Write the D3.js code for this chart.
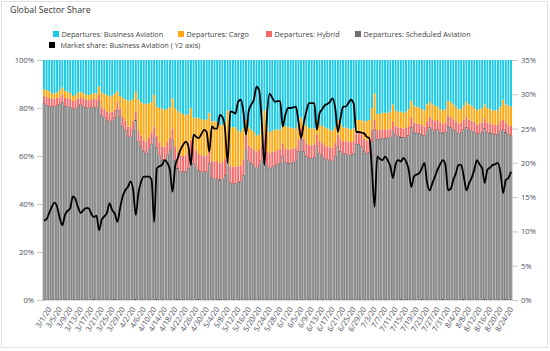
<!DOCTYPE html>
<html lang="en">
<head>
<meta charset="UTF-8"/>
<title>Global Sector Share</title>
<script src="https://d3js.org/d3.v7.min.js"></script>
<style>
	body { margin:0; background:#fff; font-family:"Open Sans", sans-serif; }
	.axis text { fill:#4d5262; font-size:7.6px; font-family:"Open Sans", sans-serif; }
	.axis line { stroke:#c8c8c8; }
	.axis path { display:none; }
</style>
</head>
<body>
<script>
	// daily categories 3/1/20 .. 8/26/20
	var days = d3.timeDay.range(new Date(2020, 2, 1), new Date(2020, 7, 27));

	// series, share of departures (%), one value per day
	var scheduled = [
		82.0, 81.2, 80.8, 80.5, 80.6, 81.0, 81.5,
		82.4, 80.8, 80.5, 80.4, 79.6, 79.8, 80.6,
		81.5, 80.6, 80.2, 80.0, 80.3, 80.5, 80.2,
		82.5, 77.0, 76.0, 75.0, 74.3, 74.8, 76.0,
		79.2, 76.4, 72.5, 70.8, 68.0, 68.0, 70.8,
		75.0, 66.0, 64.0, 62.0, 61.0, 63.0, 65.0,
		68.0, 63.5, 60.5, 58.3, 58.5, 60.5, 62.5,
		66.7, 58.3, 55.0, 53.5, 53.5, 53.5, 55.0,
		61.0, 57.0, 55.5, 54.0, 53.5, 53.0, 53.5,
		57.0, 51.0, 50.5, 50.7, 50.0, 50.5, 52.0,
		58.0, 49.0, 48.5, 48.5, 49.0, 49.5, 52.0,
		63.0, 58.0, 57.0, 56.0, 55.0, 56.0, 58.0,
		62.0, 56.0, 55.0, 55.5, 56.0, 56.5, 57.0,
		60.0, 57.5, 57.0, 57.0, 57.5, 58.0, 62.0,
		67.0, 62.0, 60.0, 59.0, 59.0, 59.5, 64.0,
		61.0, 60.0, 59.0, 58.5, 58.0, 58.0, 60.0,
		64.0, 62.0, 61.0, 61.0, 60.5, 60.5, 61.0,
		65.0, 65.0, 64.0, 62.0, 61.0, 61.5, 66.0,
		71.0, 67.0, 67.0, 67.5, 67.5, 67.5, 68.0,
		70.5, 68.5, 68.0, 68.0, 67.5, 68.0, 69.0,
		72.0, 70.0, 69.5, 69.5, 69.0, 68.5, 70.5,
		72.0, 71.0, 70.5, 71.0, 70.0, 69.5, 70.0,
		72.5, 72.0, 71.0, 70.5, 69.5, 70.0, 71.0,
		72.0, 71.0, 70.5, 70.0, 69.0, 69.5, 70.0,
		71.5, 70.0, 69.5, 69.5, 69.0, 69.0, 70.5,
		71.0, 70.0, 69.0, 68.5
	];
	var hybrid = [
		3.2, 3.4, 3.5, 3.3, 3.4, 3.2, 3.0,
		3.2, 3.4, 3.5, 3.4, 3.3, 3.4, 3.3,
		3.0, 3.2, 3.3, 3.3, 3.4, 3.3, 3.4,
		3.0, 3.3, 3.5, 3.6, 3.7, 3.6, 3.4,
		3.2, 3.5, 3.8, 4.0, 4.2, 4.3, 4.0,
		3.6, 4.4, 4.6, 4.8, 5.0, 4.8, 4.6,
		4.2, 5.0, 5.2, 5.5, 5.5, 5.3, 5.0,
		4.8, 5.8, 6.2, 6.5, 6.6, 6.6, 6.4,
		5.8, 6.4, 6.6, 6.8, 6.8, 6.9, 6.8,
		6.2, 7.0, 7.2, 7.2, 7.0, 7.0, 6.8,
		6.0, 6.8, 7.0, 7.0, 6.8, 6.6, 6.5,
		5.6, 6.4, 6.5, 6.6, 6.6, 6.5, 6.2,
		5.0, 6.0, 6.2, 6.2, 6.0, 6.0, 5.8,
		5.2, 5.6, 5.8, 5.8, 5.6, 5.5, 5.0,
		4.6, 5.2, 5.4, 5.5, 5.5, 5.4, 5.0,
		5.3, 5.4, 5.5, 5.5, 5.6, 5.5, 5.4,
		4.8, 5.0, 5.2, 5.2, 5.3, 5.3, 5.2,
		4.5, 4.6, 4.8, 5.2, 5.4, 5.5, 5.0,
		4.0, 3.8, 3.8, 3.6, 3.6, 3.5, 3.5,
		4.0, 3.8, 3.8, 3.8, 3.8, 3.8, 3.8,
		4.2, 4.0, 4.0, 3.9, 3.9, 3.8, 4.0,
		4.3, 4.2, 4.1, 4.0, 4.0, 3.9, 4.0,
		4.3, 4.3, 4.2, 4.0, 4.0, 4.0, 4.1,
		4.3, 4.2, 4.2, 4.1, 4.0, 4.0, 4.0,
		4.2, 4.0, 4.0, 3.9, 4.0, 4.0, 4.1,
		4.2, 4.0, 3.8, 4.0
	];
	var cargo = [
		2.6, 2.9, 2.7, 2.4, 2.0, 2.3, 2.9,
		2.9, 3.0, 2.8, 2.4, 2.1, 2.2, 2.5,
		2.3, 2.4, 2.1, 2.1, 2.1, 2.4, 2.4,
		3.5, 6.2, 6.3, 6.8, 6.8, 6.8, 6.6,
		4.6, 5.1, 7.9, 8.8, 11.0, 10.7, 9.0,
		8.2, 13.1, 13.8, 15.0, 15.7, 14.2, 12.8,
		13.3, 12.0, 14.3, 15.9, 15.2, 13.8, 12.9,
		12.5, 15.9, 17.6, 18.0, 17.4, 16.9, 16.0,
		13.2, 12.6, 13.9, 14.9, 15.1, 15.1, 14.9,
		14.8, 16.5, 16.8, 16.3, 16.0, 15.5, 15.4,
		15.0, 16.2, 16.5, 16.5, 14.7, 13.9, 13.0,
		6.4, 7.6, 7.5, 7.4, 6.9, 6.5, 8.3,
		12.0, 10.5, 8.8, 8.8, 9.0, 8.5, 8.2,
		9.3, 9.4, 9.2, 9.0, 8.4, 8.0, 6.5,
		4.4, 6.8, 7.1, 7.0, 7.0, 6.6, 6.0,
		6.7, 7.1, 7.5, 7.5, 7.4, 7.0, 6.6,
		6.2, 6.5, 5.8, 5.6, 5.7, 5.2, 5.3,
		5.5, 5.4, 6.2, 7.3, 8.1, 8.0, 9.0,
		11.0, 6.7, 6.7, 6.9, 6.9, 7.0, 7.0,
		7.0, 6.2, 6.5, 6.8, 6.4, 6.9, 7.2,
		6.8, 7.0, 7.0, 6.8, 6.6, 6.7, 7.0,
		6.2, 6.3, 6.4, 5.5, 5.5, 5.6, 5.5,
		6.2, 6.2, 6.3, 6.0, 6.0, 5.5, 5.9,
		6.2, 6.3, 6.3, 5.9, 6.0, 6.0, 6.0,
		5.8, 6.0, 6.0, 5.6, 6.0, 6.0, 5.9,
		8.3, 7.5, 8.2, 8.0
	];
	var business = [
		12.2, 12.5, 13.0, 13.8, 14.0, 13.5, 12.6,
		11.5, 12.8, 13.2, 13.8, 15.0, 14.6, 13.6,
		13.2, 13.8, 14.4, 14.6, 14.2, 13.8, 14.0,
		11.0, 13.5, 14.2, 14.6, 15.2, 14.8, 14.0,
		13.0, 15.0, 15.8, 16.4, 16.8, 17.0, 16.2,
		13.2, 16.5, 17.6, 18.2, 18.3, 18.0, 17.6,
		14.5, 19.5, 20.0, 20.3, 20.8, 20.4, 19.6,
		16.0, 20.0, 21.2, 22.0, 22.5, 23.0, 22.6,
		20.0, 24.0, 24.0, 24.3, 24.6, 25.0, 24.8,
		22.0, 25.5, 25.5, 25.8, 27.0, 27.0, 25.8,
		21.0, 28.0, 28.0, 28.0, 29.5, 30.0, 28.5,
		25.0, 28.0, 29.0, 30.0, 31.5, 31.0, 27.5,
		21.0, 27.5, 30.0, 29.5, 29.0, 29.0, 29.0,
		25.5, 27.5, 28.0, 28.2, 28.5, 28.5, 26.5,
		24.0, 26.0, 27.5, 28.5, 28.5, 28.5, 25.0,
		27.0, 27.5, 28.0, 28.5, 29.0, 29.5, 28.0,
		25.0, 26.5, 28.0, 28.2, 28.5, 29.0, 28.5,
		25.0, 25.0, 25.0, 25.5, 25.5, 25.0, 20.0,
		14.0, 22.5, 22.5, 22.0, 22.0, 22.0, 21.5,
		18.5, 21.0, 21.5, 21.5, 22.0, 21.5, 20.5,
		17.0, 19.0, 19.5, 19.8, 20.5, 21.0, 18.5,
		17.5, 18.5, 19.0, 19.5, 20.5, 21.0, 20.5,
		17.0, 17.5, 18.5, 19.5, 20.5, 20.5, 19.0,
		17.5, 18.5, 19.0, 20.0, 21.0, 20.5, 20.0,
		18.5, 20.0, 20.5, 21.0, 21.0, 21.0, 19.5,
		16.5, 18.5, 19.0, 19.5
	];
	// market share: business aviation (%), right axis
	var marketShare = [
		11.6, 11.8, 12.7, 13.6, 14.2, 13.6, 12.0,
		10.9, 12.4, 13.0, 13.4, 15.1, 14.7, 13.5,
		12.7, 13.1, 13.4, 13.4, 12.6, 12.1, 12.3,
		10.2, 11.7, 12.2, 12.7, 14.1, 13.1, 12.6,
		11.4, 13.4, 15.1, 16.0, 16.5, 17.3, 16.0,
		12.4, 15.6, 17.2, 18.0, 18.0, 18.0, 17.5,
		11.4, 19.2, 19.5, 19.7, 20.4, 20.0, 19.0,
		15.8, 19.5, 20.7, 21.9, 22.6, 23.1, 22.5,
		19.7, 24.1, 23.8, 23.6, 24.2, 24.8, 24.5,
		21.6, 25.3, 25.0, 25.0, 27.0, 26.7, 25.0,
		20.0, 27.5, 27.4, 27.2, 28.9, 29.2, 27.5,
		24.1, 27.5, 28.5, 29.2, 31.1, 30.6, 26.0,
		19.7, 27.0, 30.1, 29.5, 28.9, 29.0, 29.0,
		25.3, 27.0, 28.0, 28.0, 28.1, 28.2, 26.0,
		23.6, 25.8, 27.5, 28.7, 28.7, 28.7, 24.8,
		27.2, 27.8, 28.4, 28.6, 28.9, 29.4, 28.0,
		24.5, 26.5, 28.2, 28.2, 28.7, 29.2, 28.7,
		24.5, 24.5, 24.4, 24.3, 23.8, 23.6, 19.0,
		13.6, 20.9, 20.6, 20.4, 20.9, 20.4, 19.5,
		17.8, 19.8, 20.4, 20.2, 20.7, 20.2, 19.0,
		16.5, 18.0, 18.3, 18.5, 19.2, 20.0, 17.1,
		16.0, 17.0, 18.0, 19.0, 19.8, 20.4, 19.7,
		16.0, 16.2, 17.5, 18.5, 19.7, 19.7, 18.0,
		16.0, 17.0, 17.8, 19.0, 20.4, 19.8, 19.2,
		17.1, 19.0, 19.3, 19.7, 19.8, 20.0, 18.5,
		15.6, 17.5, 17.8, 18.7
	];

	var keys = ["scheduled", "hybrid", "cargo", "business"];
	var labels = {
		business: "Departures: Business Aviation",
		cargo: "Departures: Cargo",
		hybrid: "Departures: Hybrid",
		scheduled: "Departures: Scheduled Aviation"
	};
	var colors = {
		business: "#1cc8e2",
		cargo: "#ffa80f",
		hybrid: "#f86a6a",
		scheduled: "#b4b4b4"
	};
	var leftTicks = [0, 0.2, 0.4, 0.6, 0.8, 1];
	var rightTicks = [0, 5, 10, 15, 20, 25, 30, 35];

	var w = 550, h = 351;
	var plotLeft = 43, plotRight = 512, plotTop = 60, plotBottom = 300;

	var rows = days.map(function(d, i) {
		return { date: d, scheduled: scheduled[i], hybrid: hybrid[i], cargo: cargo[i], business: business[i] };
	});

	var xScale = d3.scaleBand()
		.domain(days)
		.range([plotLeft, plotRight])
		.paddingInner(0.26)
		.paddingOuter(0);
	var yScale = d3.scaleLinear().domain([0, 1]).range([plotBottom, plotTop]);
	var y2Scale = d3.scaleLinear().domain([0, 35]).range([plotBottom, plotTop]);

	var svg = d3.select("body").append("svg")
		.attr("width", w)
		.attr("height", h);

	// card border + title
	svg.append("rect")
		.attr("x", 1.5).attr("y", 1.5)
		.attr("width", w - 4).attr("height", h - 5)
		.attr("fill", "#fff")
		.attr("stroke", "#e2e2e2");
	svg.append("text")
		.attr("x", 10).attr("y", 13)
		.attr("font-size", "8.8px")
		.attr("fill", "#333")
		.text("Global Sector Share");

	// stacked 100% bars
	var stack = d3.stack().keys(keys).offset(d3.stackOffsetExpand);
	var series = stack(rows);

	svg.append("g").selectAll("g")
		.data(series)
		.enter().append("g")
		.attr("fill", function(s) { return colors[s.key]; })
		.attr("stroke", function(s) { return s.key === "scheduled" ? "#333" : "none"; })
		.attr("stroke-width", 0.4)
		.selectAll("rect")
		.data(function(s) { return s; })
		.enter().append("rect")
		.attr("x", function(d) { return xScale(d.data.date); })
		.attr("width", xScale.bandwidth())
		.attr("y", function(d) { return yScale(d[1]); })
		.attr("height", function(d) { return yScale(d[0]) - yScale(d[1]); });

	// market share line on Y2
	var line = d3.line()
		.x(function(d, i) { return xScale(days[i]) + xScale.bandwidth() / 2; })
		.y(function(d) { return y2Scale(d); })
		.curve(d3.curveMonotoneX);
	svg.append("path")
		.datum(marketShare)
		.attr("fill", "none")
		.attr("stroke", "#000")
		.attr("stroke-width", 1.8)
		.attr("stroke-linejoin", "round")
		.attr("d", line);

	// axes
	svg.append("g")
		.attr("class", "axis")
		.attr("transform", "translate(" + plotLeft + ",0)")
		.call(d3.axisLeft(yScale).tickValues(leftTicks).tickFormat(d3.format(".0%")).tickSize(6).tickPadding(3));
	svg.append("g")
		.attr("class", "axis")
		.attr("transform", "translate(" + plotRight + ",0)")
		.call(d3.axisRight(y2Scale).tickValues(rightTicks).tickFormat(function(d) { return d + "%"; }).tickSize(6).tickPadding(3));

	var fmt = d3.timeFormat("%-m/%-d/%y");
	var xAxis = svg.append("g")
		.attr("class", "axis")
		.attr("transform", "translate(0," + plotBottom + ")")
		.call(d3.axisBottom(xScale)
			.tickValues(days.filter(function(d, i) { return i % 4 === 0; }))
			.tickFormat(fmt)
			.tickSize(0));
	xAxis.selectAll("text")
		.attr("text-anchor", "end")
		.attr("dy", "0.35em")
		.attr("transform", "translate(3,6) rotate(-58)");

	// legend
	var legendRows = [
		{ key: "business", x: 53, y: 34 },
		{ key: "cargo", x: 178, y: 34 },
		{ key: "hybrid", x: 266, y: 34 },
		{ key: "scheduled", x: 355, y: 34 }
	];
	var legend = svg.append("g");
	legendRows.forEach(function(l) {
		legend.append("rect")
			.attr("x", l.x).attr("y", l.y - 3)
			.attr("width", 6).attr("height", 6)
			.attr("fill", l.key === "scheduled" ? "#6e6e6e" : colors[l.key]);
		legend.append("text")
			.attr("x", l.x + 8.5).attr("y", l.y + 2.6)
			.attr("font-size", "7.3px")
			.attr("fill", "#444")
			.text(labels[l.key]);
	});
	legend.append("rect")
		.attr("x", 49).attr("y", 42)
		.attr("width", 6).attr("height", 6)
		.attr("fill", "#000");
	legend.append("text")
		.attr("x", 60.5).attr("y", 47.6)
		.attr("font-size", "7.3px")
		.attr("fill", "#444")
		.text("Market share: Business Aviation ( Y2 axis)");
</script>
</body>
</html>
